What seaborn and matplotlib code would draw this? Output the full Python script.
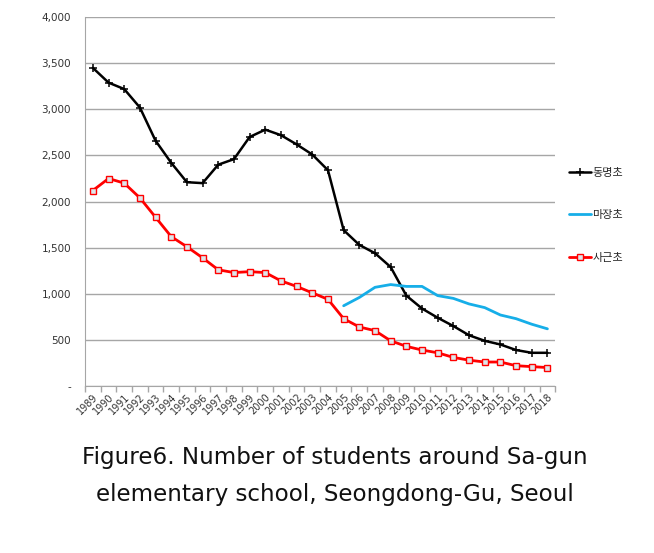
import numpy as np
import pandas as pd
import matplotlib
matplotlib.use("Agg")
import matplotlib.pyplot as plt
import seaborn as sns
from matplotlib.ticker import FuncFormatter, FixedLocator

years = list(range(1989, 2019))

dongmyeong = [3450, 3290, 3220, 3020, 2660, 2420, 2210, 2200, 2400, 2460,
              2700, 2780, 2720, 2620, 2510, 2340, 1690, 1530, 1440, 1290,
              980, 840, 740, 650, 550, 490, 450, 390, 360, 360]

majang_years = list(range(2005, 2019))
majang = [870, 960, 1070, 1100, 1080, 1080, 980, 950, 890, 850,
          770, 730, 670, 620]

sageun = [2120, 2250, 2200, 2040, 1830, 1620, 1510, 1390, 1260, 1230,
          1240, 1230, 1140, 1080, 1010, 940, 730, 640, 600, 490,
          430, 390, 360, 310, 280, 260, 260, 220, 210, 200]

labels = ["동명초", "마장초", "사근초"]

sns.set_style("white")
plt.rcParams["font.family"] = ["DejaVu Sans", "Noto Sans CJK KR"]

fig = plt.figure(figsize=(6.54, 5.53), dpi=100)
ax = fig.add_axes([0.130, 0.302, 0.719, 0.667])

df_d = pd.DataFrame({"year": years, "value": dongmyeong})
df_m = pd.DataFrame({"year": majang_years, "value": majang})
df_s = pd.DataFrame({"year": years, "value": sageun})

sns.lineplot(data=df_d, x="year", y="value", ax=ax, color="black",
             linewidth=1.8, marker="+", markersize=6, markeredgewidth=1.1,
             markeredgecolor="black", label=labels[0])
sns.lineplot(data=df_m, x="year", y="value", ax=ax, color="#16aee8",
             linewidth=2, label=labels[1])
sns.lineplot(data=df_s, x="year", y="value", ax=ax, color="#ff0000",
             linewidth=2, marker="s", markersize=5, markeredgewidth=1,
             markerfacecolor="#dde6ea", markeredgecolor="#ff0000",
             label=labels[2])

ax.set_xlim(1988.5, 2018.5)
ax.set_ylim(0, 4000)
ax.set_yticks(np.arange(0, 4001, 500))
ax.yaxis.set_major_formatter(FuncFormatter(
    lambda v, p: "-" if v == 0 else f"{int(v):,}"))
ax.grid(axis="y", color="#a6a6a6", linewidth=1)
ax.set_axisbelow(True)

ax.set_xticks(years)
ax.set_xticklabels([str(y) for y in years], rotation=45, ha="right",
                   rotation_mode="anchor", fontsize=7, color="#333333")
ax.tick_params(axis="x", which="major", length=0, pad=4)
ax.xaxis.set_minor_locator(FixedLocator(np.arange(1988.5, 2019, 1)))
ax.tick_params(axis="x", which="minor", length=4, color="#a6a6a6",
               width=1, bottom=True)
ax.tick_params(axis="y", length=0, labelsize=7.5, labelcolor="#333333",
               pad=10)

ax.set_xlabel("")
ax.set_ylabel("")
for side in ["top", "right"]:
    ax.spines[side].set_visible(False)
ax.spines["left"].set_color("#a6a6a6")
ax.spines["bottom"].set_color("#a6a6a6")

handles, hl = ax.get_legend_handles_labels()
ax.get_legend().remove()
leg = fig.legend(handles, hl, loc="upper left",
                 bbox_to_anchor=(0.855, 0.715), frameon=False,
                 labelspacing=2.95, handlelength=2.0, handletextpad=0.1,
                 prop={"family": ["Noto Sans CJK KR"], "size": 8})

fig.text(0.512, 0.172, "Figure6. Number of students around Sa-gun",
         ha="center", va="center", fontsize=16.6, color="#111111")
fig.text(0.512, 0.106, "elementary school, Seongdong-Gu, Seoul",
         ha="center", va="center", fontsize=16.6, color="#111111")

fig.savefig("out.png", dpi=100)
